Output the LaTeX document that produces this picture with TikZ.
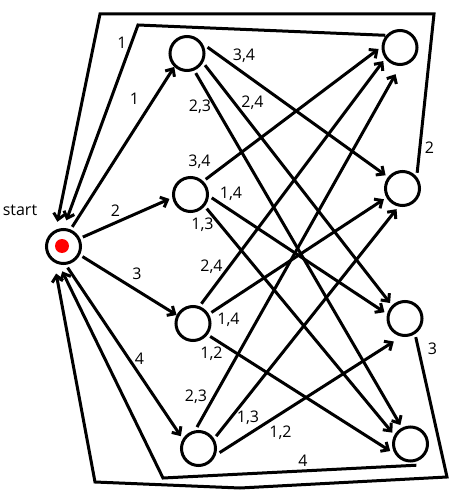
\documentclass[tikz,border=0pt]{standalone}
\usepackage{fontspec}
\setmainfont{Open Sans}
\usetikzlibrary{arrows.meta}
\begin{document}
\begin{tikzpicture}[x=1pt,y=-1pt,
  st/.style={circle,draw,line width=3pt,minimum size=34pt,inner sep=0pt,outer sep=4.5pt},
  arr/.style={line width=3pt,line join=miter,-{Straight Barb[length=6pt,width=11pt]}},
  lbl/.style={font=\fontsize{16}{18}\selectfont,inner sep=0pt,text height=11.4pt,text depth=0pt,anchor=center}]
\useasboundingbox (0,0) rectangle (474,494);
% nodes
\node[st] (s) at (63.5,246.5) {};
\node[circle,fill=red,minimum size=14pt,inner sep=0pt] (dot) at (62,246) {};
\node[st] (a1) at (187,53.5) {};
\node[st] (a2) at (190.5,194.5) {};
\node[st] (a3) at (193,323.5) {};
\node[st] (a4) at (198.5,448.5) {};
\node[st] (b1) at (400,47.5) {};
\node[st] (b2) at (402.5,188.5) {};
\node[st] (b3) at (405,318.5) {};
\node[st] (b4) at (410.5,444) {};
% start -> first column
\draw[arr,shorten >=-3pt] (s.66) -- (a1.228);
\draw[arr] (s.26) -- (a2.192);
\draw[arr,shorten >=-3pt] (s.-28) -- (a3.152);
\draw[arr] (s.-79) -- (a4.145);
% first column -> second column
\draw[arr] (a1.17) -- (b2.142);
\draw[arr] (a1.-33) -- (b3.134);
\draw[arr] (a1.-66) -- (b4.118);
\draw[arr] (a2.45) -- (b1.184);
\draw[arr] (a2.-9) -- (b3.163);
\draw[arr] (a2.-41) -- (b4.148);
\draw[arr] (a3.67) -- (b1.219);
\draw[arr] (a3.31) -- (b2.210);
\draw[arr] (a3.-37) -- (b4.199);
\draw[arr,shorten >=6pt] (a4.94) -- (b1.266);
\draw[arr] (a4.35) -- (b2.254);
\draw[arr,shorten >=5pt] (a4.-11) -- (b3.251);
% returns to start
\coordinate (c1) at (138,25);
\coordinate (c2a) at (434,14);
\coordinate (c2b) at (100,14);
\coordinate (c3a) at (447,477);
\coordinate (c3b) at (240,488);
\coordinate (c3c) at (95,482);
\coordinate (c4) at (163,478);
\draw[arr,shorten <=-3pt,shorten >=5pt] (b1.145) -- (c1) -- (s.87);
\draw[arr,shorten >=4.5pt] (b2.47) -- (c2a) -- (c2b) -- (s.109);
\draw[arr,shorten >=7.5pt] (b3.-60) -- (c3a) -- (c3b) -- (c3c) -- (s.246);
\draw[arr,shorten <=-4pt,shorten >=4pt] (b4.-85) -- (c4) -- (s.262);
% labels
\node[lbl] (tstart) at (20,209.3) {start};
\node[lbl] (l1a) at (122,42.5) {1};
\node[lbl] (l1b) at (134.5,99) {1};
\node[lbl] (l2) at (115.5,211) {2};
\node[lbl] (l3) at (137,273.5) {3};
\node[lbl] (l4) at (139.5,359) {4};
\node[lbl] (l12) at (244,55) {3,4};
\node[lbl] (l13) at (252.5,101.5) {2,4};
\node[lbl] (l14) at (200,106) {2,3};
\node[lbl] (l21) at (199.5,160.5) {3,4};
\node[lbl] (l23) at (231,192.5) {1,4};
\node[lbl] (l24) at (202.5,223.5) {1,3};
\node[lbl] (l31) at (211.5,265.5) {2,4};
\node[lbl] (l32) at (228.5,318.5) {1,4};
\node[lbl] (l34) at (211.5,352.5) {1,2};
\node[lbl] (l41) at (196,396) {2,3};
\node[lbl] (l42) at (248,417) {1,3};
\node[lbl] (l43) at (280.5,431.5) {1,2};
\node[lbl] (r2) at (429.5,148) {2};
\node[lbl] (r3) at (432.5,348.5) {3};
\node[lbl] (r4) at (303,460.5) {4};
\end{tikzpicture}
\end{document}
